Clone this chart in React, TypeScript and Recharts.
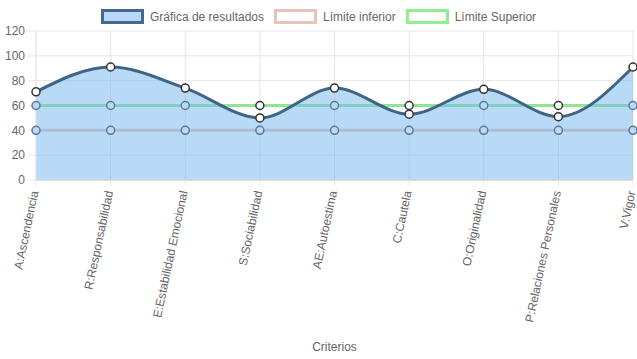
import { ComposedChart, Area, XAxis, YAxis, CartesianGrid, Label } from 'recharts';

const criterios = [
	'A:Ascendencia',
	'R:Responsabilidad',
	'E:Estabilidad Emocional',
	'S:Sociabilidad',
	'AE:Autoestima',
	'C:Cautela',
	'O:Originalidad',
	'P:Relaciones Personales',
	'V:Vigor',
];
const resultados = [71, 91, 74, 50, 74, 53, 73, 51, 91];
const limiteInferior = [40, 40, 40, 40, 40, 40, 40, 40, 40];
const limiteSuperior = [60, 60, 60, 60, 60, 60, 60, 60, 60];
const yTicks = [0, 20, 40, 60, 80, 100, 120];

const data = criterios.map((c, i) => ({
	c,
	res: resultados[i],
	inf: limiteInferior[i],
	sup: limiteSuperior[i],
}));

const FONT = '"Liberation Sans", Arial, Helvetica, sans-serif';
const GRID = '#e6e6e6';

const legendItems = [
	{ label: 'Gráfica de resultados', border: '#45698b', fill: 'rgba(115,181,239,0.5)' },
	{ label: 'Límite inferior', border: '#e8c3b9', fill: '#fff' },
	{ label: 'Límite Superior', border: '#90ee90', fill: '#fff' },
];

function XTick(props: any) {
	const { x, y, payload } = props;
	return (
		<g transform={`translate(${x - 1},${y + 1})`}>
			<text
				transform="rotate(-78)"
				textAnchor="end"
				dy="0.3em"
				fill="#666"
				fontSize={12}
				fontFamily={FONT}
			>
				{payload.value}
			</text>
		</g>
	);
}

function ResDot(props: any) {
	const { cx, cy } = props;
	if (cx == null || cy == null) return null;
	return <circle cx={cx} cy={cy} r={4} fill="#fff" fillOpacity={1} stroke="#333" strokeWidth={1.5} />;
}

// limit points sit under the translucent result fill unless the result dips below them
function LimitDot(props: any) {
	const { cx, cy, payload, dataKey } = props;
	if (cx == null || cy == null) return null;
	const covered = payload.res > payload[dataKey];
	return (
		<circle
			cx={cx}
			cy={cy}
			r={4}
			fill={covered ? '#b9daf7' : '#fff'}
			fillOpacity={1}
			stroke={covered ? '#5a7996' : '#333'}
			strokeWidth={1.5}
		/>
	);
}

export default function App() {
	return (
		<div style={{ position: 'absolute', left: 0, top: 0, width: 637, height: 359, background: '#fff' }}>
			<div
				style={{
					position: 'absolute',
					top: 9,
					left: 0,
					width: 637,
					display: 'flex',
					justifyContent: 'center',
					gap: 10,
					fontFamily: FONT,
					fontSize: 12,
					color: '#666',
					lineHeight: '12px',
				}}
			>
				{legendItems.map((it) => (
					<div key={it.label} style={{ display: 'flex', alignItems: 'center', gap: 6 }}>
						<span
							style={{
								display: 'inline-block',
								width: 37,
								height: 9,
								border: `3px solid ${it.border}`,
								background: it.fill,
							}}
						/>
						<span>{it.label}</span>
					</div>
				))}
			</div>
			<ComposedChart
				width={637}
				height={359}
				data={data}
				margin={{ top: 31, right: 4, bottom: 0, left: 0 }}
			>
				<CartesianGrid stroke={GRID} vertical={true} horizontal={true} />
				<XAxis
					dataKey="c"
					scale="point"
					interval={0}
					height={179}
					tickSize={5}
					tickMargin={5}
					tickLine={{ stroke: GRID }}
					axisLine={{ stroke: '#d4d4d4', strokeWidth: 1.5 }}
					tick={<XTick />}
				>
					<Label
						value="Criterios"
						position="insideBottom"
						offset={8}
						fill="#666"
						fontSize={12}
						fontFamily={FONT}
					/>
				</XAxis>
				<YAxis
					domain={[0, 120]}
					ticks={yTicks}
					width={36}
					tickSize={8}
					tickMargin={3}
					tickLine={{ stroke: GRID }}
					axisLine={{ stroke: GRID }}
					tick={{ fill: '#666', fontSize: 12, fontFamily: FONT }}
				/>
				<Area
					dataKey="inf"
					type="linear"
					stroke="#e8c3b9"
					strokeWidth={3}
					fill="none"
					dot={<LimitDot />}
					isAnimationActive={false}
				/>
				<Area
					dataKey="sup"
					type="linear"
					stroke="#90e690"
					strokeWidth={3}
					fill="none"
					dot={<LimitDot />}
					isAnimationActive={false}
				/>
				<Area
					dataKey="res"
					type="monotone"
					stroke="#3f6586"
					strokeWidth={3}
					fill="rgb(115,181,239)"
					fillOpacity={0.5}
					dot={<ResDot />}
					isAnimationActive={false}
				/>
			</ComposedChart>
		</div>
	);
}
